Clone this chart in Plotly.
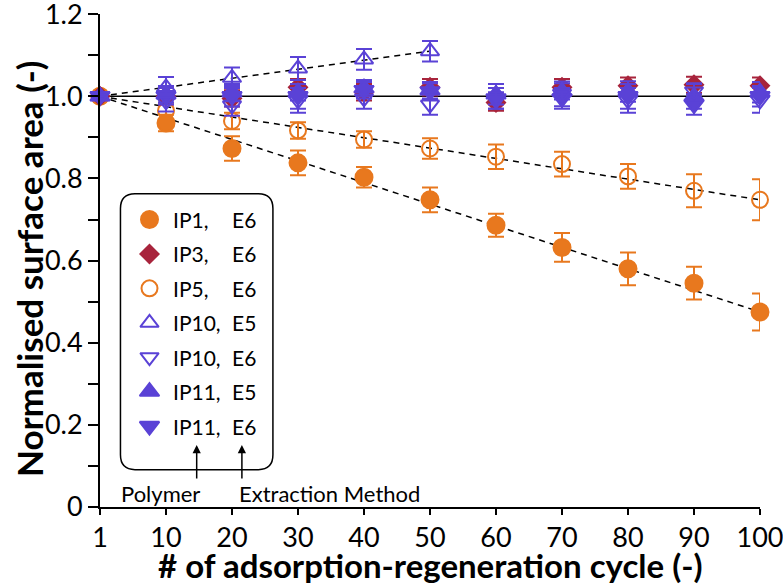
import plotly.graph_objects as go

# ---------------- data ----------------
cycles = ["1", "10", "20", "30", "40", "50", "60", "70", "80", "90", "100"]

ip1_e6 = [1.0, 0.935, 0.873, 0.838, 0.803, 0.748, 0.686, 0.632, 0.580, 0.545, 0.475]
ip1_e6_err = [0, 0.02, 0.03, 0.03, 0.025, 0.03, 0.028, 0.035, 0.04, 0.04, 0.045]

ip3_e6 = [1.0, 1.0, 0.995, 1.022, 1.01, 1.022, 0.985, 1.022, 1.026, 1.028, 1.026]
ip3_e6_err = [0, 0.02, 0.02, 0.02, 0.02, 0.02, 0.02, 0.02, 0.02, 0.02, 0.02]

ip5_e6 = [1.0, 0.965, 0.94, 0.917, 0.895, 0.873, 0.853, 0.835, 0.805, 0.77, 0.748]
ip5_e6_err = [0, 0.02, 0.02, 0.02, 0.02, 0.025, 0.03, 0.03, 0.03, 0.04, 0.05]

ip10_e5 = [1.0, 1.022, 1.045, 1.068, 1.09, 1.11]
ip10_e5_err = [0, 0.025, 0.025, 0.028, 0.025, 0.025]

ip10_e6 = [1.0, 0.988, 0.978, 0.99, 0.995, 0.98, 0.99, 1.006, 0.99, 1.012, 0.99]
ip10_e6_err = [0, 0.025, 0.025, 0.03, 0.025, 0.025, 0.02, 0.03, 0.03, 0.02, 0.03]

ip11_e5 = [1.0, 1.005, 1.01, 1.01, 1.02, 1.015, 1.005, 1.012, 1.012, 1.0, 1.01]
ip11_e5_err = [0, 0.02, 0.02, 0.02, 0.02, 0.02, 0.025, 0.02, 0.025, 0.03, 0.025]

ip11_e6 = [1.0, 1.0, 1.0, 1.0, 1.015, 1.012, 0.995, 0.995, 1.0, 0.98, 1.0]
ip11_e6_err = [0, 0.02, 0.025, 0.03, 0.02, 0.02, 0.025, 0.025, 0.03, 0.025, 0.025]

polymers = ["IP1,", "IP3,", "IP5,", "IP10,", "IP10,", "IP11,", "IP11,"]
methods = ["E6", "E6", "E6", "E5", "E6", "E5", "E6"]

yticks = [0, 0.1, 0.2, 0.3, 0.4, 0.5, 0.6, 0.7, 0.8, 0.9, 1.0, 1.1, 1.2]
ytick_text = ["0", "", "0.2", "", "0.4", "", "0.6", "", "0.8", "", "1.0", "", "1.2"]

# ---------------- style ----------------
ORANGE = "#E8781E"
RED = "#A8243C"
PURPLE = "#5A42D6"
FONT = "Lato"

W, H = 783, 586
ML, MT = 100, 14
PLOT_R, PLOT_B = 760, 507
MR, MB = W - PLOT_R, H - PLOT_B
PW, PH = PLOT_R - ML, PLOT_B - MT

series = [
    dict(y=ip1_e6, err=ip1_e6_err, color=ORANGE, symbol="circle", size=17),
    dict(y=ip5_e6, err=ip5_e6_err, color=ORANGE, symbol="circle-open", size=16),
    dict(y=ip3_e6, err=ip3_e6_err, color=RED, symbol="diamond", size=14),
    dict(y=ip11_e5, err=ip11_e5_err, color=PURPLE, symbol="triangle-up", size=17),
    dict(y=ip11_e6, err=ip11_e6_err, color=PURPLE, symbol="triangle-down", size=17),
    dict(y=ip10_e5, err=ip10_e5_err, color=PURPLE, symbol="triangle-up-open", size=16),
    dict(y=ip10_e6, err=ip10_e6_err, color=PURPLE, symbol="triangle-down-open", size=16),
]
legend_order = [
    (ORANGE, "circle", 17), (RED, "diamond", 14), (ORANGE, "circle-open", 16),
    (PURPLE, "triangle-up-open", 16), (PURPLE, "triangle-down-open", 16),
    (PURPLE, "triangle-up", 17), (PURPLE, "triangle-down", 17),
]

fig = go.Figure()

# dashed trend lines
for vals in (ip1_e6, ip5_e6, ip10_e5):
    fig.add_trace(go.Scatter(
        x=[0, len(vals) - 1], y=[vals[0], vals[-1]], mode="lines",
        line=dict(color="black", width=1.5, dash="6px,5px"),
        showlegend=False, hoverinfo="skip"))

# reference line at 1.0
fig.add_trace(go.Scatter(
    x=[0, len(cycles) - 1], y=[1.0, 1.0], mode="lines",
    line=dict(color="black", width=1.5), showlegend=False, hoverinfo="skip"))

for s in series:
    xs = list(range(len(s["y"])))
    fig.add_trace(go.Scatter(
        x=xs, y=s["y"], mode="markers",
        marker=dict(color=s["color"], symbol=s["symbol"], size=s["size"],
                    line=dict(color=s["color"], width=2)),
        error_y=dict(type="data", array=s["err"], color=s["color"],
                     thickness=2, width=8),
        showlegend=False, cliponaxis=False))

# ---------------- custom legend ----------------
box_x0, box_x1, box_y0, box_y1 = 0.31, 2.62, 0.091, 0.763
rx, ry = 0.22, 0.036
path = (f"M {box_x0 + rx},{box_y1} L {box_x1 - rx},{box_y1} "
        f"Q {box_x1},{box_y1} {box_x1},{box_y1 - ry} L {box_x1},{box_y0 + ry} "
        f"Q {box_x1},{box_y0} {box_x1 - rx},{box_y0} L {box_x0 + rx},{box_y0} "
        f"Q {box_x0},{box_y0} {box_x0},{box_y0 + ry} L {box_x0},{box_y1 - ry} "
        f"Q {box_x0},{box_y1} {box_x0 + rx},{box_y1} Z")
fig.add_shape(type="path", path=path, xref="x", yref="y",
              line=dict(color="black", width=1.5), fillcolor="white", layer="below")

row_y0, row_step = 0.70, 0.0838
for i, (col, sym, sz) in enumerate(legend_order):
    yy = row_y0 - i * row_step
    fig.add_trace(go.Scatter(
        x=[0.75], y=[yy], mode="markers",
        marker=dict(color=col, symbol=sym, size=sz, line=dict(color=col, width=2)),
        showlegend=False, hoverinfo="skip"))
    fig.add_annotation(x=1.07, y=yy, xref="x", yref="y", text=polymers[i],
                       showarrow=False, xanchor="left", yanchor="middle",
                       font=dict(family=FONT, size=21, color="black"))
    fig.add_annotation(x=1.97, y=yy, xref="x", yref="y", text=methods[i],
                       showarrow=False, xanchor="left", yanchor="middle",
                       font=dict(family=FONT, size=21, color="black"))

for ax_x in (1.465, 2.15):
    fig.add_annotation(x=ax_x, y=0.151, ax=ax_x, ay=0.066, xref="x", yref="y",
                       axref="x", ayref="y", text="", showarrow=True,
                       arrowhead=2, arrowsize=1.1, arrowwidth=1.5, arrowcolor="black")

fig.add_annotation(x=0.92, y=0.034, xref="x", yref="y", text="Polymer",
                   showarrow=False, xanchor="center", yanchor="middle",
                   font=dict(family=FONT, size=22, color="black"))
fig.add_annotation(x=2.07, y=0.034, xref="x", yref="y", text="Extraction Method",
                   showarrow=False, xanchor="left", yanchor="middle",
                   font=dict(family=FONT, size=22, color="black"))

# ---------------- axis titles (page pixel targets) ----------------
def px_to_paper_x(px):
    return (px - ML) / PW


def px_to_paper_y(py):
    return (PLOT_B - py) / PH


fig.add_annotation(x=px_to_paper_x(430), y=px_to_paper_y(565), xref="paper", yref="paper",
                   text="<b># of adsorption-regeneration cycle (-)</b>", showarrow=False,
                   xanchor="center", yanchor="middle",
                   font=dict(family=FONT, size=33, color="black"))
fig.add_annotation(x=px_to_paper_x(29), y=px_to_paper_y(269), xref="paper", yref="paper",
                   text="<b>Normalised surface area (-)</b>", showarrow=False,
                   textangle=-90, xanchor="center", yanchor="middle",
                   font=dict(family=FONT, size=35, color="black"))

# ---------------- layout ----------------
fig.update_layout(
    width=W, height=H,
    margin=dict(l=ML, r=MR, t=MT, b=MB, autoexpand=False),
    plot_bgcolor="white", paper_bgcolor="white",
    font=dict(family=FONT, color="black"),
    xaxis=dict(
        range=[0, len(cycles) - 1], tickvals=list(range(len(cycles))), ticktext=cycles,
        showgrid=False, zeroline=False, showline=True, linecolor="black", linewidth=2,
        ticks="outside", ticklen=6, tickwidth=1.5, tickcolor="black",
        tickfont=dict(family=FONT, size=27), automargin=False,
        ticklabeloverflow="allow",
    ),
    yaxis=dict(
        range=[0, 1.2005], tickvals=yticks, ticktext=ytick_text,
        showgrid=False, zeroline=False, showline=True, linecolor="black", linewidth=2,
        ticks="outside", ticklen=10, tickwidth=1.5, tickcolor="black",
        tickfont=dict(family=FONT, size=27), automargin=False,
        ticklabeloverflow="allow",
    ),
)

# remove the default 8px page margin so the figure fills the window
fig.write_html("out.html",
               config={"displayModeBar": False},
               post_script="document.body.style.margin='0';document.body.style.overflow='hidden';")
